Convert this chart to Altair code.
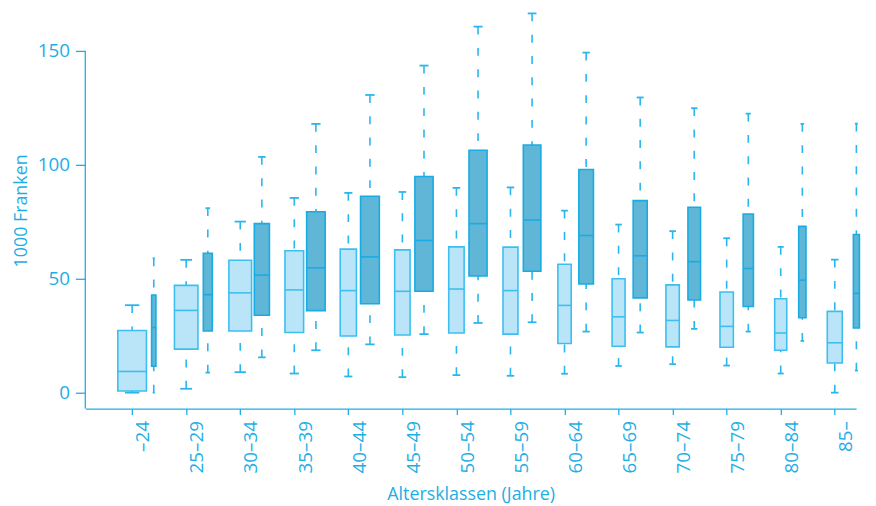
import altair as alt
import pandas as pd

# ---- data ----
groups = ["–24", "25–29", "30–34", "35–39", "40–44", "45–49", "50–54",
          "55–59", "60–64", "65–69", "70–74", "75–79", "80–84", "85–"]

# light series: lower whisker, Q1, median, Q3, upper whisker (1000 Franken)
light_lo  = [0.0, 1.7, 9.0, 8.4, 7.1, 6.8, 7.7, 7.4, 8.3, 11.7, 12.5, 11.9, 8.4, 0.0]
light_q1  = [0.7, 19.1, 27.1, 26.4, 24.9, 25.3, 26.2, 25.7, 21.6, 20.4, 20.1, 19.9, 18.6, 13.0]
light_med = [9.3, 36.1, 43.8, 45.1, 44.8, 44.5, 45.5, 44.8, 38.3, 33.3, 31.7, 29.1, 26.2, 21.9]
light_q3  = [27.3, 47.1, 58.1, 62.3, 63.0, 62.7, 64.0, 63.9, 56.4, 50.0, 47.3, 44.2, 41.2, 35.7]
light_hi  = [38.4, 58.3, 75.1, 85.5, 87.7, 88.1, 89.9, 90.1, 79.9, 73.8, 70.9, 67.8, 64.0, 58.4]
# relative box width (group size)
light_w   = [0.53, 0.435, 0.42, 0.345, 0.30, 0.285, 0.285, 0.277, 0.247, 0.24, 0.247, 0.247, 0.223, 0.277]

# dark series
dark_lo  = [0.0, 8.8, 15.5, 18.6, 21.2, 25.7, 30.6, 30.9, 26.8, 26.4, 28.0, 26.8, 22.7, 9.7]
dark_q1  = [11.6, 27.1, 34.0, 36.0, 39.0, 44.5, 51.2, 53.3, 47.7, 41.6, 40.7, 37.8, 32.9, 28.4]
dark_med = [28.6, 43.0, 51.6, 54.8, 59.6, 66.8, 74.2, 75.8, 69.0, 60.1, 57.5, 54.5, 49.4, 43.6]
dark_q3  = [42.9, 61.2, 74.2, 79.4, 86.2, 94.9, 106.4, 108.7, 98.0, 84.3, 81.4, 78.4, 73.0, 69.4]
dark_hi  = [59.0, 81.0, 103.5, 118.0, 130.7, 143.6, 160.7, 166.5, 149.3, 129.6, 124.9, 122.5, 118.0, 118.1]
dark_w   = [0.08, 0.167, 0.28, 0.343, 0.348, 0.337, 0.335, 0.325, 0.27, 0.26, 0.233, 0.19, 0.135, 0.112]

series_names = ["hell", "dunkel"]
series_offset = {"hell": -0.2, "dunkel": 0.2}

rows = []
for s, lo, q1, md, q3, hi, w in [
    ("hell", light_lo, light_q1, light_med, light_q3, light_hi, light_w),
    ("dunkel", dark_lo, dark_q1, dark_med, dark_q3, dark_hi, dark_w),
]:
    for i, g in enumerate(groups):
        c = i + series_offset[s]
        rows.append(dict(group=g, series=s, c=c,
                         left=c - w[i] / 2, right=c + w[i] / 2,
                         capl=c - w[i] / 4, capr=c + w[i] / 4,
                         lo=lo[i], q1=q1[i], med=md[i], q3=q3[i], hi=hi[i]))
df = pd.DataFrame(rows)

CYAN = "#1eaee6"
FONT = "Open Sans"
Y_MIN, Y_MAX = -7, 167

tick_values = sorted(df["c"].round(3).tolist())
labels_js = "[" + ",".join("'" + g + "'" for g in groups) + "]"
label_expr = ("abs(datum.value - round(datum.value) + 0.2) < 0.05 ? "
              + labels_js + "[round(datum.value)] : ''")

xscale = alt.Scale(domain=[-1.067, 13.195], nice=False, zero=False)
yscale = alt.Scale(domain=[Y_MIN, Y_MAX], nice=False, zero=False)

xaxis = alt.Axis(values=tick_values, labelExpr=label_expr, labelAngle=-90,
                 labelOffset=10.9, labelPadding=6, tickSize=6, grid=False,
                 title="Altersklassen (Jahre)", titlePadding=13,
                 labelFontSize=19, titleFontSize=18, labelFlush=False,
                 labelOverlap=False)
yaxis = alt.Axis(values=[0, 50, 100, 150], tickSize=10, labelPadding=6,
                 domain=False, grid=False, title="1000 Franken",
                 titlePadding=7, labelFontSize=19, titleFontSize=18)

base = alt.Chart(df)
color_scale = alt.Scale(domain=series_names, range=["#bae5f8", "#5fb6d6"])
stroke_scale = alt.Scale(domain=series_names, range=["#3cbff0", "#17ace4"])

whisk_hi = base.mark_rule(strokeWidth=1.6, strokeDash=[8, 13.5], color="#2ab6ec").encode(
    x=alt.X("c:Q", scale=xscale, axis=xaxis), y=alt.Y("hi:Q", scale=yscale, axis=yaxis),
    y2="q3:Q")
whisk_lo = base.mark_rule(strokeWidth=1.6, strokeDash=[8, 13.5], color="#2ab6ec").encode(
    x="c:Q", y="lo:Q", y2="q1:Q")
boxes = base.mark_rect(strokeWidth=1.6).encode(
    x="left:Q", x2="right:Q", y="q1:Q", y2="q3:Q",
    fill=alt.Fill("series:N", scale=color_scale, legend=None),
    stroke=alt.Stroke("series:N", scale=stroke_scale, legend=None))
medians = base.mark_rule(strokeWidth=1.6).encode(
    x="left:Q", x2="right:Q", y="med:Q",
    color=alt.Color("series:N", scale=stroke_scale, legend=None))
cap_hi = base.mark_rule(strokeWidth=1.8, color="#2ab6ec").encode(
    x="capl:Q", x2="capr:Q", y="hi:Q")
cap_lo = base.mark_rule(strokeWidth=1.8, color="#2ab6ec").encode(
    x="capl:Q", x2="capr:Q", y="lo:Q")
yline = alt.Chart(pd.DataFrame({"top": [150], "bottom": [Y_MIN]})).mark_rule(
    color=CYAN, strokeWidth=1.3).encode(
    x=alt.value(0), y=alt.Y("top:Q"), y2="bottom:Q")

chart = alt.layer(yline, whisk_hi, whisk_lo, boxes, medians, cap_hi, cap_lo).properties(
    width=778, height=400,
    autosize=alt.AutoSizeParams(type="none"),
    padding={"left": 78, "top": 2, "right": 12, "bottom": 96},
    background="white",
).configure_view(stroke=None).configure_axis(
    domainColor=CYAN, tickColor=CYAN, labelColor=CYAN, titleColor=CYAN,
    labelFont=FONT, titleFont=FONT, domainWidth=1.3, tickWidth=1.3,
    titleFontWeight="normal",
)

chart.save("out.html", embed_options={"renderer": "svg", "actions": False})
